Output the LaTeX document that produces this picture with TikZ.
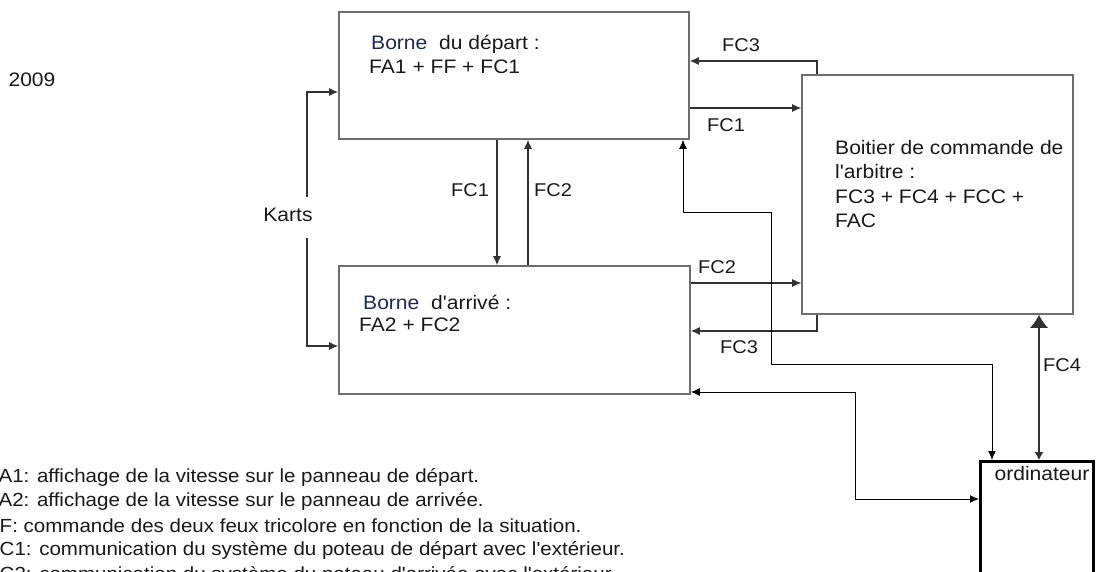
\documentclass[tikz,border=0pt]{standalone}
\usepackage{fontspec}
\setmainfont{Liberation Sans}[FakeStretch=1.08,Ligatures=TeXOff]
\usetikzlibrary{arrows.meta,calc}
\definecolor{boxgray}{RGB}{110,110,110}
\definecolor{conngray}{RGB}{50,50,50}
\definecolor{bornecol}{RGB}{30,40,85}
\tikzset{
  box/.style={draw=boxgray,line width=1.6pt,inner sep=0pt,rectangle},
  conn/.style={draw=conngray,line width=1.1pt},
  tip/.style={-{Latex[length=9pt,width=8pt]}},
  tipboth/.style={{Latex[length=9pt,width=8pt]}-{Latex[length=9pt,width=8pt]}},
  txt/.style={font=\fontsize{19.5}{23}\selectfont,inner sep=0pt,text=black!90},
  lbl/.style={font=\fontsize{18.5}{22}\selectfont,inner sep=0pt,text=black!90},
  legtxt/.style={font=\fontsize{19}{23}\selectfont,inner sep=0pt,text=black!90,anchor=west},
}
\begin{document}
\begin{tikzpicture}[x=1pt,y=-1pt]
\useasboundingbox (0,0) rectangle (1096,572);
\clip (0,0) rectangle (1096,572);
\fill[white] (0,0) rectangle (1096,572);

% boxes
\node[box,minimum width=350pt,minimum height=127pt] (dep) at (514,75.5) {};
\node[box,minimum width=351pt,minimum height=128pt] (arr) at (514.5,330) {};
\node[box,minimum width=271pt,minimum height=239pt] (arb) at (937.5,194.5) {};
\node[draw=black,line width=3pt,minimum width=113pt,minimum height=170pt,anchor=north west,inner sep=0pt] (ord) at (979,460) {};

% box texts
\node[txt,anchor=west] (depA) at (371,44) {{\color{bornecol}Borne}\ \ du départ :};
\node[txt,anchor=west] (depB) at (369,67) {FA1 + FF + FC1};
\node[txt,anchor=west] (arrA) at (363,302) {{\color{bornecol}Borne}\ \ d'arrivé :};
\node[txt,anchor=west] (arrB) at (359,325) {FA2 + FC2};
\node[txt,anchor=west] (arbA) at (835,148) {Boitier de commande de};
\node[txt,anchor=west] (arbB) at (835,172) {l'arbitre :};
\node[txt,anchor=west] (arbC) at (835,197) {FC3 + FC4 + FCC +};
\node[txt,anchor=west] (arbD) at (835,221) {FAC};
\node[txt] (ordT) at (1042,474) {ordinateur};
\node[txt] (year) at (32,80) {2009};

% connector labels
\node[lbl] (l1) at (741,45) {FC3};
\node[lbl] (l2) at (726,125) {FC1};
\node[lbl] (l3) at (470,190) {FC1};
\node[lbl] (l4) at (553,190) {FC2};
\node[lbl] (l5) at (717,267) {FC2};
\node[lbl] (l6) at (739,347) {FC3};
\node[lbl] (l7) at (1062,365) {FC4};
\node[txt] (karts) at (288,215) {Karts};

% free ends
\coordinate (kt) at (307,197);
\coordinate (kb) at (307,238);

% connectors
\draw[conn,tip] (arb.north -| 817,0) |- (dep.east |- 0,61);
\draw[conn,tip] (dep.east |- 0,108) -- (arb.west |- 0,108);
\draw[conn,tip] (dep.south -| 497,0) -- (arr.north -| 497,0);
\draw[conn,tip] (arr.north -| 528,0) -- (dep.south -| 528,0);
\draw[conn,tip] (arr.east |- 0,283) -- (arb.west |- 0,283);
\draw[conn,tip] (arb.south -| 817,0) |- (arr.east |- 0,331);
\draw[conn,tip] (kt) |- (dep.west |- 0,92);
\draw[conn,tip] (kb) |- (arr.west |- 0,346);
\draw[conn,tipboth,draw=black,line width=1pt] (dep.south -| 683,0) |- (771,213) |- (992,364) -- (ord.north -| 992,0);
\draw[conn,tipboth,draw=black,line width=1pt] (arr.east |- 0,392) -| (855,499) -- (ord.west |- 0,499);
\draw[conn,{Latex[length=8pt,width=9pt]}-{Latex[length=13pt,width=18pt]}] (ord.north -| 1039,0) -- (arb.south -| 1039,0);

% legend
\node[legtxt] (leg1) at (-13,477) {FA1: affichage de la vitesse sur le panneau de départ.};
\node[legtxt] (leg2) at (-13,501) {FA2: affichage de la vitesse sur le panneau de arrivée.};
\node[legtxt] (leg3) at (-13,526) {FF: commande des deux feux tricolore en fonction de la situation.};
\node[legtxt] (leg4) at (-13,550) {FC1: communication du système du poteau de départ avec l'extérieur.};
\node[legtxt] (leg5) at (-13,575) {FC2: communication du système du poteau d'arrivée avec l'extérieur.};
\end{tikzpicture}
\end{document}
